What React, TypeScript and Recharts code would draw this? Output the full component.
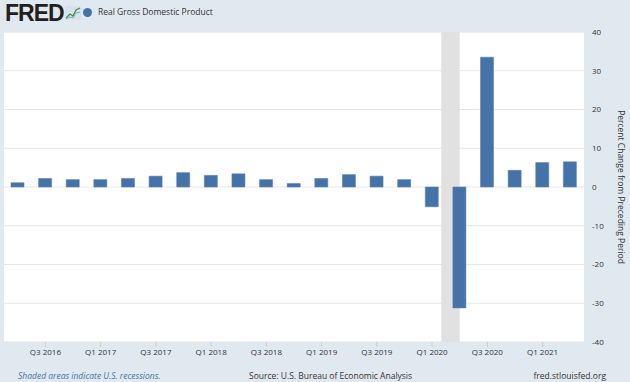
import { Bar, BarChart, CartesianGrid, ReferenceArea, XAxis, YAxis } from "recharts";

// quarterly, Q2 2016 .. Q2 2021
const quarters = [
    "Q2 2016", "Q3 2016", "Q4 2016",
    "Q1 2017", "Q2 2017", "Q3 2017", "Q4 2017",
    "Q1 2018", "Q2 2018", "Q3 2018", "Q4 2018",
    "Q1 2019", "Q2 2019", "Q3 2019", "Q4 2019",
    "Q1 2020", "Q2 2020", "Q3 2020", "Q4 2020",
    "Q1 2021", "Q2 2021",
];
const gdpChange = [
    1.1, 2.2, 1.9,
    1.9, 2.2, 2.8, 3.7,
    3.0, 3.4, 1.9, 0.9,
    2.2, 3.2, 2.8, 1.9,
    -5.1, -31.2, 33.5, 4.3,
    6.3, 6.5,
];
const xTicks = [1, 3, 5, 7, 9, 11, 13, 15, 17, 19];
const yTicks = [-40, -30, -20, -10, 0, 10, 20, 30, 40];
// Feb 2020 - Apr 2020, in quarter-index units
const recession = [15 + 1 / 3, 16];

const data = quarters.map((q, i) => ({ idx: i, quarter: q, value: gdpChange[i] }));

const font = "'Open Sans', sans-serif";
const text = "#333333";
const blue = "#4572a7";

const FredLogo = () => (
    <div style={{ position: "absolute", left: 5, top: 2, display: "flex", alignItems: "center" }}>
        <span style={{ fontFamily: "'Liberation Sans', sans-serif", fontWeight: 900, fontSize: 23, letterSpacing: -1, color: "#231f20", lineHeight: "22px" }}>FRED</span>
        <svg width={16} height={14} style={{ marginLeft: 1 }}>
            <rect x={0} y={0} width={16} height={14} fill="#d7e2ec" />
            <polyline points="1,12 5,8 8,10 11,4 15,2" fill="none" stroke="#4b8a3e" strokeWidth={1.2} />
            <polyline points="1,13 5,11 8,12 11,7 15,6" fill="none" stroke="#7aa7d0" strokeWidth={1} />
        </svg>
    </div>
);

export default function App() {
    return (
        <div style={{ position: "absolute", left: 0, top: 0, width: 630, height: 382, background: "#e1e9f0", fontFamily: font }}>
            <FredLogo />
            <div style={{ position: "absolute", left: 83, top: 5, display: "flex", alignItems: "center", fontSize: 8.5, color: text, lineHeight: "14px" }}>
                <span style={{ display: "inline-block", width: 9, height: 9, borderRadius: "50%", background: blue, marginRight: 6 }} />
                Real Gross Domestic Product
            </div>
            <BarChart
                width={630}
                height={382}
                data={data}
                margin={{ top: 32, right: 0, left: 4, bottom: 0 }}>
                <CartesianGrid vertical={false} stroke="#e6e6e6" fill="#ffffff" horizontalValues={yTicks} />
                <XAxis
                    dataKey="idx"
                    type="number"
                    domain={[-0.5, 20.5]}
                    ticks={xTicks}
                    interval={0}
                    tickFormatter={(i: number) => quarters[i]}
                    axisLine={false}
                    tickSize={5}
                    tickLine={{ stroke: "#cccccc" }}
                    height={40}
                    tick={{ fontSize: 8, fill: text, fontFamily: font }} />
                <YAxis
                    orientation="right"
                    domain={[-40, 40]}
                    ticks={yTicks}
                    interval={0}
                    width={46}
                    axisLine={false}
                    tickLine={false}
                    tick={{ fontSize: 8, fill: text, fontFamily: font }}
                    label={{ value: "Percent Change from Preceding Period", angle: 90, position: "insideRight", offset: 9, style: { fontSize: 8.5, fill: text, fontFamily: font, textAnchor: "middle" } }} />
                <ReferenceArea x1={recession[0]} x2={recession[1]} fill="#e1e1e1" fillOpacity={1} stroke="none" ifOverflow="hidden" />
                <Bar dataKey="value" name="Real Gross Domestic Product" fill={blue} stroke="#5a82b3" strokeWidth={0.6} barSize={13} isAnimationActive={false} />
            </BarChart>
            <div style={{ position: "absolute", left: 18, top: 370, fontSize: 8.5, fontStyle: "italic", color: blue, lineHeight: "12px" }}>
                Shaded areas indicate U.S. recessions.
            </div>
            <div style={{ position: "absolute", left: 249, top: 370, fontSize: 8.5, color: text, lineHeight: "12px" }}>
                Source: U.S. Bureau of Economic Analysis
            </div>
            <div style={{ position: "absolute", right: 24, top: 370, fontSize: 8.5, color: text, lineHeight: "12px" }}>
                fred.stlouisfed.org
            </div>
        </div>
    );
}
